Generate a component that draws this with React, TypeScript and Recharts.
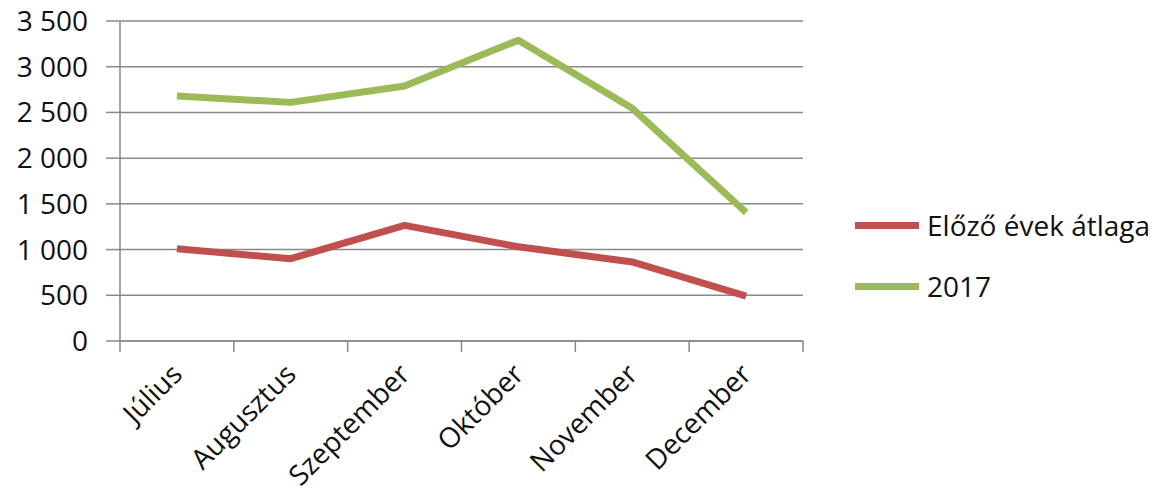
import React from 'react';
import { LineChart, Line, XAxis, YAxis, CartesianGrid } from 'recharts';

const months = ['Július', 'Augusztus', 'Szeptember', 'Október', 'November', 'December'];
const previousYearsAvg = [1010, 900, 1265, 1030, 865, 490];
const values2017 = [2680, 2610, 2790, 3290, 2545, 1405];
const yTicks = [0, 500, 1000, 1500, 2000, 2500, 3000, 3500];
const seriesNames = ['Előző évek átlaga', '2017'];
const seriesColors = ['#C0504D', '#9BBB59'];

const data = months.map((m, i) => ({ month: m, prev: previousYearsAvg[i], y2017: values2017[i] }));

const W = 1168;
const H = 502;
const M = { top: 21, right: 365, bottom: 0, left: 0 };
const Y_W = 120;
const X_H = 161;
const PLOT_W = W - M.left - Y_W - M.right;
const HALF = PLOT_W / months.length / 2;
const FONT = '"Open Sans", sans-serif';
const FS = 28;
const GRID = '#898989';
const TEXT = '#111';

const fmt = (v: number) => String(v).replace(/\B(?=(\d{3})+(?!\d))/g, '\u00a0');

const XTick = (props: any) => {
  const { x, y, payload, index } = props;
  const last = index === months.length - 1;
  return (
    <g>
      <line x1={x - HALF} x2={x - HALF} y1={y} y2={y + 11} stroke={GRID} strokeWidth={1.5} />
      {last && <line x1={x + HALF} x2={x + HALF} y1={y} y2={y + 11} stroke={GRID} strokeWidth={1.5} />}
      <text
        transform={`translate(${x + 7},${y + 35}) rotate(-45)`}
        textAnchor="end"
        fill={TEXT}
        fontSize={FS}
        fontFamily={FONT}
      >
        {payload.value}
      </text>
    </g>
  );
};

export default function App() {
  return (
    <div style={{ position: 'absolute', left: 0, top: 0, width: W, height: H, background: '#fff' }}>
      <LineChart width={W} height={H} data={data} margin={M}>
        <CartesianGrid vertical={false} stroke={GRID} strokeWidth={1.5} />
        <XAxis
          dataKey="month"
          height={X_H}
          interval={0}
          padding={{ left: HALF, right: HALF }}
          axisLine={{ stroke: GRID, strokeWidth: 1.5 }}
          tickLine={false}
          tickSize={0}
          tickMargin={0}
          tick={<XTick />}
        />
        <YAxis
          width={Y_W}
          domain={[0, 3500]}
          ticks={yTicks}
          interval={0}
          tickFormatter={fmt}
          tickSize={14}
          tickMargin={18}
          axisLine={{ stroke: GRID, strokeWidth: 1.5 }}
          tickLine={{ stroke: GRID, strokeWidth: 1.5 }}
          tick={{ fill: TEXT, fontSize: FS, fontFamily: FONT }}
        />
        <Line
          type="linear"
          dataKey="prev"
          name={seriesNames[0]}
          stroke={seriesColors[0]}
          strokeWidth={7}
          strokeLinejoin="round"
          dot={false}
          activeDot={false}
          isAnimationActive={false}
        />
        <Line
          type="linear"
          dataKey="y2017"
          name={seriesNames[1]}
          stroke={seriesColors[1]}
          strokeWidth={7}
          strokeLinejoin="round"
          dot={false}
          activeDot={false}
          isAnimationActive={false}
        />
      </LineChart>
      <div style={{ position: 'absolute', left: 855, top: 205, fontFamily: FONT, fontSize: FS, color: TEXT }}>
        {seriesNames.map((n, i) => (
          <div key={n} style={{ display: 'flex', alignItems: 'center', height: 40, marginBottom: i === 0 ? 21 : 0 }}>
            <div style={{ width: 64, height: 7, background: seriesColors[i], marginRight: 8 }} />
            <span style={{ lineHeight: '40px' }}>{n}</span>
          </div>
        ))}
      </div>
    </div>
  );
}
